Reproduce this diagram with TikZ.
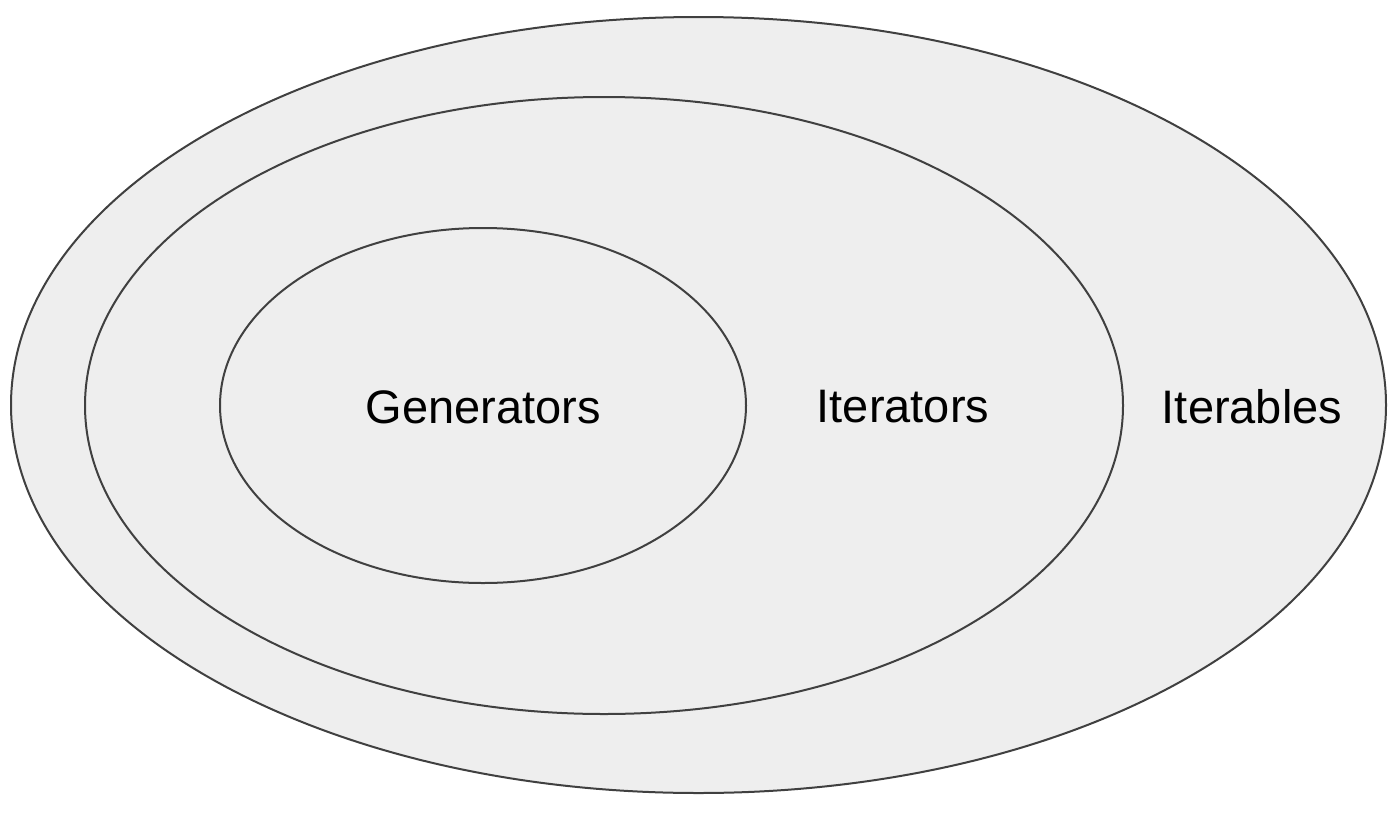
\documentclass[tikz,border=0pt]{standalone}
\usepackage{fontspec}
\setmainfont{Liberation Sans}
\usetikzlibrary{shapes.geometric}
\definecolor{setfill}{HTML}{EEEEEE}
\definecolor{setline}{HTML}{404040}
\tikzset{
  setring/.style={ellipse, draw=setline, fill=setfill, line width=2pt, inner sep=0pt},
  setlabel/.style={font=\fontsize{47}{56}\selectfont, text=black, inner sep=0pt}
}
\begin{document}
\begin{tikzpicture}[x=1pt, y=-1pt]
  \useasboundingbox (0,0) rectangle (1400,814);
  % nested sets, outermost first
  \node[setring, minimum width=1375pt, minimum height=776pt] (iterables) at (698.5,405) {};
  \node[setring, minimum width=1038pt, minimum height=617pt] (iterators) at (604,405.5) {};
  \node[setring, minimum width=526pt, minimum height=355pt] (generators) at (483,405.5) {};
  % set names
  \node[setlabel] (lgen) at (483,407) {Generators};
  \node[setlabel] (lit) at (903,407) {Iterators};
  \node[setlabel] (lible) at (1252,407) {Iterables};
\end{tikzpicture}
\end{document}
